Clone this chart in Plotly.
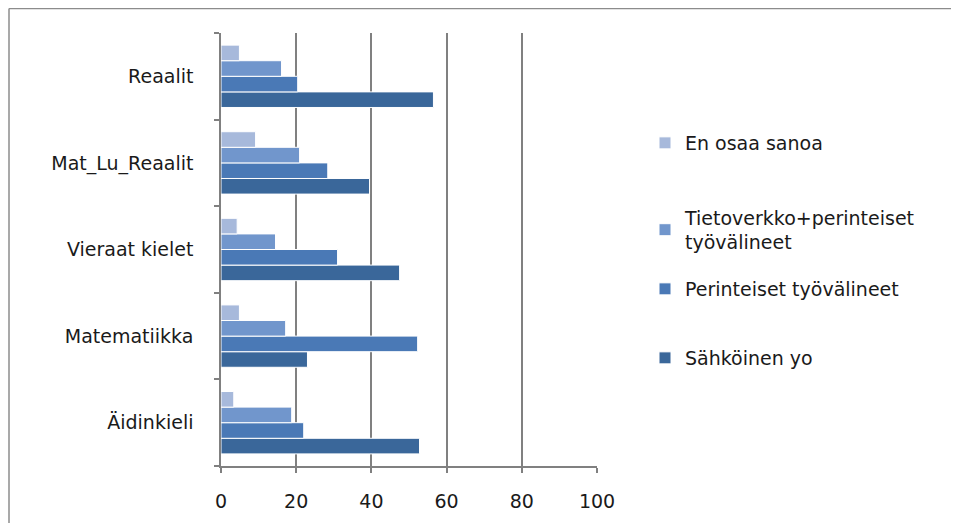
import plotly.graph_objects as go

categories = ["Äidinkieli", "Matematiikka", "Vieraat kielet", "Mat_Lu_Reaalit", "Reaalit"]
series_names = ["Sähköinen yo", "Perinteiset työvälineet",
                "Tietoverkko+perinteiset<br>työvälineet", "En osaa sanoa"]
sahkoinen = [52.8, 23.0, 47.5, 39.5, 56.5]
perinteiset = [22.0, 52.3, 31.0, 28.4, 20.4]
tietoverkko = [18.8, 17.2, 14.5, 20.9, 16.1]
en_osaa = [3.4, 4.9, 4.3, 9.2, 4.9]
x_ticks = [0, 20, 40, 60, 80, 100]

colors = ["#3A679A", "#4A79B6", "#7196CC", "#A7B9DB"]
values = [sahkoinen, perinteiset, tietoverkko, en_osaa]
legend_ids = ["legend4", "legend3", "legend2", "legend"]

# page body has an 8px margin: work in figure coordinates = reference - 8
OFF = 8
W, H = 951, 515
legend_y = [358 - OFF, 289 - OFF, 230 - OFF, 143 - OFF]
FONT = "DejaVu Sans"
FS = 19

fig = go.Figure()
for name, vals, col, lid in zip(series_names, values, colors, legend_ids):
    fig.add_trace(go.Bar(
        y=categories, x=vals, name=name, orientation="h",
        marker=dict(color=col, line=dict(color="white", width=1)),
        legend=lid,
    ))

layout_legends = {}
for lid, py in zip(legend_ids, legend_y):
    layout_legends[lid] = dict(
        xref="container", yref="container",
        x=(685 - OFF - 40) / W, y=1 - py / H, xanchor="left", yanchor="middle",
        font=dict(family=FONT, size=FS, color="#1a1a1a"),
        bgcolor="rgba(0,0,0,0)", borderwidth=0,
        itemclick=False, itemdoubleclick=False,
    )

pl, pr, pt, pb = 221 - OFF, 597 - OFF, 33 - OFF, 466 - OFF

fig.update_layout(
    width=W, height=H,
    margin=dict(l=pl, r=W - pr, t=pt, b=H - pb),
    paper_bgcolor="white", plot_bgcolor="white",
    barmode="group", bargap=0.28, bargroupgap=0,
    showlegend=True,
    font=dict(family=FONT, size=FS, color="#1a1a1a"),
    xaxis=dict(
        range=[0, 100], tickvals=x_ticks, ticktext=[str(v) for v in x_ticks],
        showgrid=True, gridcolor="#808080", gridwidth=1.5,
        showline=True, linecolor="#808080", linewidth=1.5,
        ticks="outside", ticklen=5, tickcolor="#808080", tickwidth=1.5,
        ticklabelstandoff=12, zeroline=False, automargin=False,
        tickfont=dict(family=FONT, size=19, color="#1a1a1a"),
    ),
    yaxis=dict(
        categoryorder="array", categoryarray=categories,
        showgrid=False, showline=True, linecolor="#808080", linewidth=1.5,
        ticks="outside", ticklen=5, tickcolor="#808080", tickwidth=1.5,
        tickson="boundaries", ticklabelstandoff=22, automargin=False,
        tickfont=dict(family=FONT, size=FS, color="#1a1a1a"),
    ),
    **layout_legends,
)

# outer chart frame: only its top and left edges are visible
frame_x0 = (9 - 221) / 376
frame_x1 = (1000 - 221) / 376
frame_y0 = 1 - (600 - 33) / 433
frame_y1 = 1 + (33 - 8.5) / 433
frame_line = dict(color="#8c8c8c", width=1.5)
fig.add_shape(type="line", xref="paper", yref="paper",
              x0=frame_x0, x1=frame_x1, y0=frame_y1, y1=frame_y1,
              line=frame_line, layer="below")
fig.add_shape(type="line", xref="paper", yref="paper",
              x0=frame_x0, x1=frame_x0, y0=frame_y0, y1=frame_y1,
              line=frame_line, layer="below")

fig.write_html("out.html", config={"displayModeBar": False})
